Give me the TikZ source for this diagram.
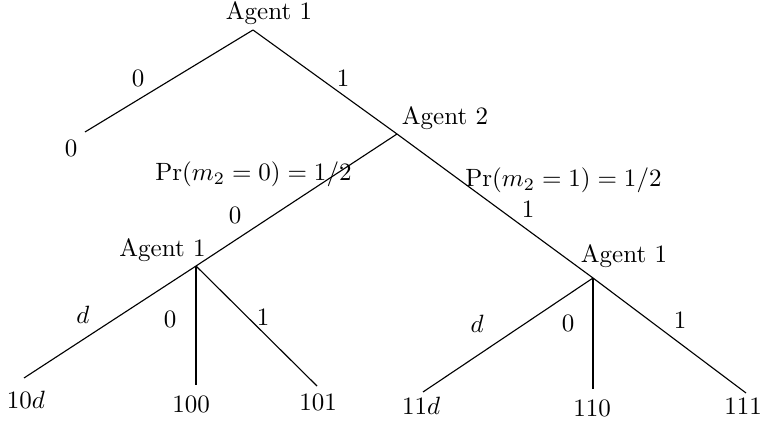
\documentclass[tikz,border=0pt]{standalone}
\begin{document}
\begin{tikzpicture}[x=0.4pt,y=-0.4pt,
  edge/.style={line width=0.45pt},
  lbl/.style={inner sep=0pt,anchor=base}]
\useasboundingbox (0,0) rectangle (764,424);
% vertices
\coordinate (r) at (253,30);
\coordinate (a2) at (397,134);
\coordinate (b) at (196,266);
\coordinate (c) at (593,278);
% leaves
\coordinate (l0) at (85,132);
\coordinate (l10d) at (24,378);
\coordinate (l100) at (196,385);
\coordinate (l101) at (317,386);
\coordinate (l11d) at (423,392);
\coordinate (l110) at (593,389);
\coordinate (l111) at (746,393);
% edges
\draw[edge] (r) -- (l0);
\draw[edge] (r) -- (a2);
\draw[edge] (a2) -- (b);
\draw[edge] (a2) -- (c);
\draw[edge] (b) -- (l10d);
\draw[edge] (b) -- (l100);
\draw[edge] (b) -- (l101);
\draw[edge] (c) -- (l11d);
\draw[edge] (c) -- (l110);
\draw[edge] (c) -- (l111);
% agent labels
\node[lbl] (tr) at (269,19.5) {Agent 1};
\node[lbl] (ta2) at (445,125) {Agent 2};
\node[lbl] (tb) at (162.5,257) {Agent 1};
\node[lbl] (tc) at (624,263) {Agent 1};
% probabilities
\node[lbl] (pl) at (253.5,181) {$\Pr(m_2=0)=1/2$};
\node[lbl] (pr) at (563.5,187) {$\Pr(m_2=1)=1/2$};
% edge labels
\node[lbl] (e0) at (138,87) {0};
\node[lbl] (e1) at (343,87) {1};
\node[lbl] (e20) at (235,224) {0};
\node[lbl] (e21) at (528,218) {1};
\node[lbl] (ebd) at (83,324) {$d$};
\node[lbl] (eb0) at (170,328) {0};
\node[lbl] (eb1) at (263,326) {1};
\node[lbl] (ecd) at (477,333) {$d$};
\node[lbl] (ec0) at (568,332) {0};
\node[lbl] (ec1) at (680,329) {1};
% leaf labels
\node[lbl] (t0) at (71,157) {0};
\node[lbl] (t10d) at (26,408) {$10d$};
\node[lbl] (t100) at (191,413) {100};
\node[lbl] (t101) at (318,411) {101};
\node[lbl] (t11d) at (421,415) {$11d$};
\node[lbl] (t110) at (592,417) {110};
\node[lbl] (t111) at (743,415) {111};
\end{tikzpicture}
\end{document}
